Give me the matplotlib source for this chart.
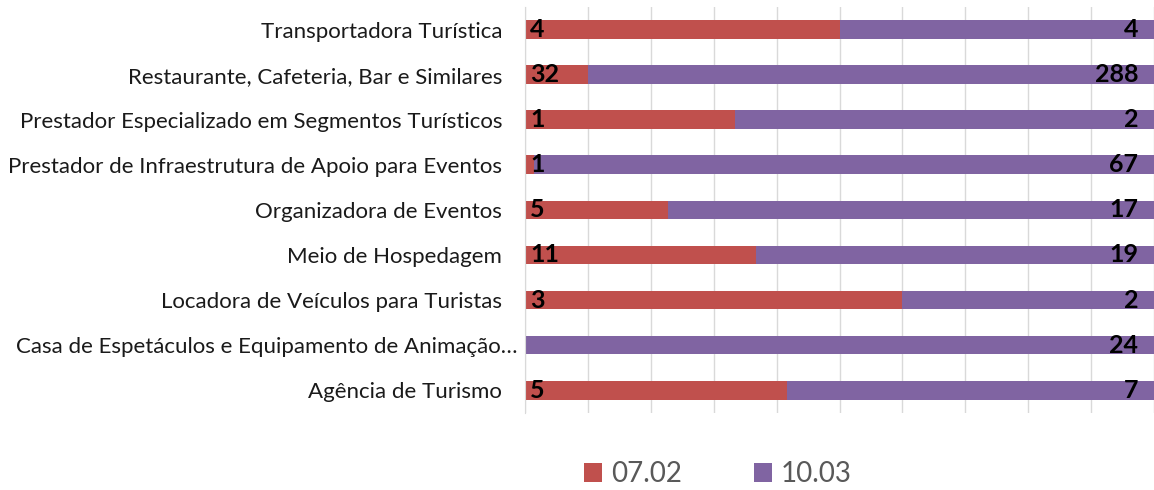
import numpy as np
import matplotlib.pyplot as plt
from matplotlib.transforms import ScaledTranslation

# categories listed bottom to top (as drawn on the y axis)
categorias = [
    "Agência de Turismo",
    "Casa de Espetáculos e Equipamento de Animação…",
    "Locadora de Veículos para Turistas",
    "Meio de Hospedagem",
    "Organizadora de Eventos",
    "Prestador de Infraestrutura de Apoio para Eventos",
    "Prestador Especializado em Segmentos Turísticos",
    "Restaurante, Cafeteria, Bar e Similares",
    "Transportadora Turística",
]
serie_0702 = [5, 0, 3, 11, 5, 1, 1, 32, 4]
serie_1003 = [7, 24, 2, 19, 17, 67, 2, 288, 4]
legenda = ["07.02", "10.03"]

plt.rcParams['font.family'] = ['Lato', 'DejaVu Sans']

a = np.array(serie_0702, dtype=float)
b = np.array(serie_1003, dtype=float)
tot = a + b
pa = a / tot
pb = b / tot
y = np.arange(len(categorias))

fig = plt.figure(figsize=(11.54, 4.9), dpi=100)
ax = fig.add_axes([0.455, 0.158, 0.545, 0.827])

ax.barh(y, pa, height=0.42, color='#C0504D', label=legenda[0], zorder=2)
ax.barh(y, pb, left=pa, height=0.42, color='#8064A2', label=legenda[1], zorder=2)

for i in range(len(y)):
    if a[i] > 0:
        ax.text(0.008, y[i], str(serie_0702[i]), ha='left', va='center',
                fontsize=18, fontweight='bold', color='black', zorder=3)
    ax.text(0.975, y[i], str(serie_1003[i]), ha='right', va='center',
            fontsize=18, fontweight='bold', color='black', zorder=3)

ax.set_xlim(0, 1)
ax.set_ylim(-0.5, len(categorias) - 0.5)
ax.set_xticks(np.linspace(0, 1, 11))
ax.set_xticklabels([])
ax.tick_params(axis='x', length=0)
ax.tick_params(axis='y', length=0, pad=16.5, labelsize=16, labelcolor='#1a1a1a')
ax.set_yticks(y)
ax.set_yticklabels(categorias)
ax.grid(axis='x', color='#D9D9D9', linewidth=1, zorder=0)
for s in ['top', 'right', 'bottom']:
    ax.spines[s].set_visible(False)
ax.spines['left'].set_color('#D9D9D9')

# the truncated label sits closer to the axis, like in the original
lbl = ax.get_yticklabels()[1]
lbl.set_transform(lbl.get_transform() + ScaledTranslation(15 / 100, 0, fig.dpi_scale_trans))

fig.legend(loc='center', bbox_to_anchor=(0.622, 0.032), ncol=2, frameon=False,
           fontsize=20, handlelength=0.65, handleheight=0.65, columnspacing=2.6,
           handletextpad=0.3, labelcolor='#595959')

fig.savefig('out.png', dpi=100)
